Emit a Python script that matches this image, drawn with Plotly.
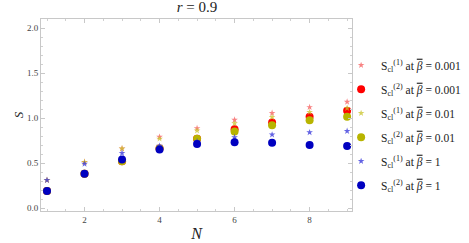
import plotly.graph_objects as go

N = [1, 2, 3, 4, 5, 6, 7, 8, 9]
s1_b0001 = [0.31, 0.51, 0.66, 0.79, 0.885, 0.98, 1.055, 1.12, 1.18]
s2_b0001 = [0.19, 0.38, 0.52, 0.66, 0.77, 0.875, 0.95, 1.015, 1.08]
s1_b001 = [0.31, 0.51, 0.66, 0.77, 0.86, 0.94, 1.01, 1.065, 1.11]
s2_b001 = [0.19, 0.38, 0.52, 0.66, 0.77, 0.85, 0.92, 0.975, 1.015]
s1_b1 = [0.31, 0.49, 0.61, 0.69, 0.74, 0.785, 0.815, 0.84, 0.855]
s2_b1 = [0.19, 0.38, 0.54, 0.65, 0.71, 0.73, 0.725, 0.70, 0.69]

beta = '<span style="text-decoration:overline"><i>β</i></span>'
series = [
    (f"S<sub>cl</sub><sup>(1)</sup> at {beta} = 0.001", s1_b0001, "star", "rgba(245,90,90,0.75)", 5),
    (f"S<sub>cl</sub><sup>(2)</sup> at {beta} = 0.001", s2_b0001, "circle", "#ff0000", 8),
    (f"S<sub>cl</sub><sup>(1)</sup> at {beta} = 0.01", s1_b001, "star", "rgba(200,195,40,0.75)", 5),
    (f"S<sub>cl</sub><sup>(2)</sup> at {beta} = 0.01", s2_b001, "circle", "#b8b400", 8),
    (f"S<sub>cl</sub><sup>(1)</sup> at {beta} = 1", s1_b1, "star", "rgba(60,60,220,0.8)", 5),
    (f"S<sub>cl</sub><sup>(2)</sup> at {beta} = 1", s2_b1, "circle", "#0000c0", 8),
]

fig = go.Figure()
for i, (name, ys, sym, col, sz) in enumerate(series):
    fig.add_trace(go.Scatter(x=N, y=ys, mode="markers", name=name, legendgroup=f"g{i}",
                             marker=dict(symbol=sym, color=col, size=sz, line=dict(width=0))))

axis_common = dict(showgrid=False, zeroline=False, showline=True, linecolor="#c8c8c8",
                   linewidth=1, mirror="allticks", ticks="inside", tickcolor="#c8c8c8",
                   ticklen=4, automargin=False,
                   tickfont=dict(family="Liberation Serif", size=9, color="#444"))

fig.update_xaxes(range=[0.84, 9.13], tickvals=[2, 4, 6, 8],
                 minor=dict(dtick=0.5, tick0=0, ticklen=2, tickcolor="#d0d0d0", ticks="inside"),
                 title=dict(text="<i>N</i>", font=dict(family="Liberation Serif", size=16, color="#222"),
                            standoff=4),
                 **axis_common)
fig.update_yaxes(range=[-0.033, 2.1], tickvals=[0, 0.5, 1.0, 1.5, 2.0], tickformat=".1f",
                 minor=dict(dtick=0.1, tick0=0, ticklen=2, tickcolor="#d0d0d0", ticks="inside"),
                 title=dict(text="<i>S</i>", font=dict(family="Liberation Serif", size=13, color="#222"),
                            standoff=0),
                 **axis_common)

fig.update_layout(
    width=469, height=243,
    margin=dict(l=41, r=117, t=19, b=32, autoexpand=False),
    paper_bgcolor="white", plot_bgcolor="white",
    title=dict(text="<i>r</i> = 0.9", x=0.42, xanchor="center", y=0.995, yanchor="top",
               font=dict(family="Liberation Serif", size=15, color="#222")),
    legend=dict(x=0.965, xanchor="left", y=0.835, yanchor="top",
                font=dict(family="Liberation Serif", size=11.5, color="#222"),
                itemwidth=30, tracegroupgap=5, bgcolor="rgba(0,0,0,0)"),
    showlegend=True,
)

fig.write_html("out.html", config={"displayModeBar": False},
               post_script="document.body.style.margin='0';")
